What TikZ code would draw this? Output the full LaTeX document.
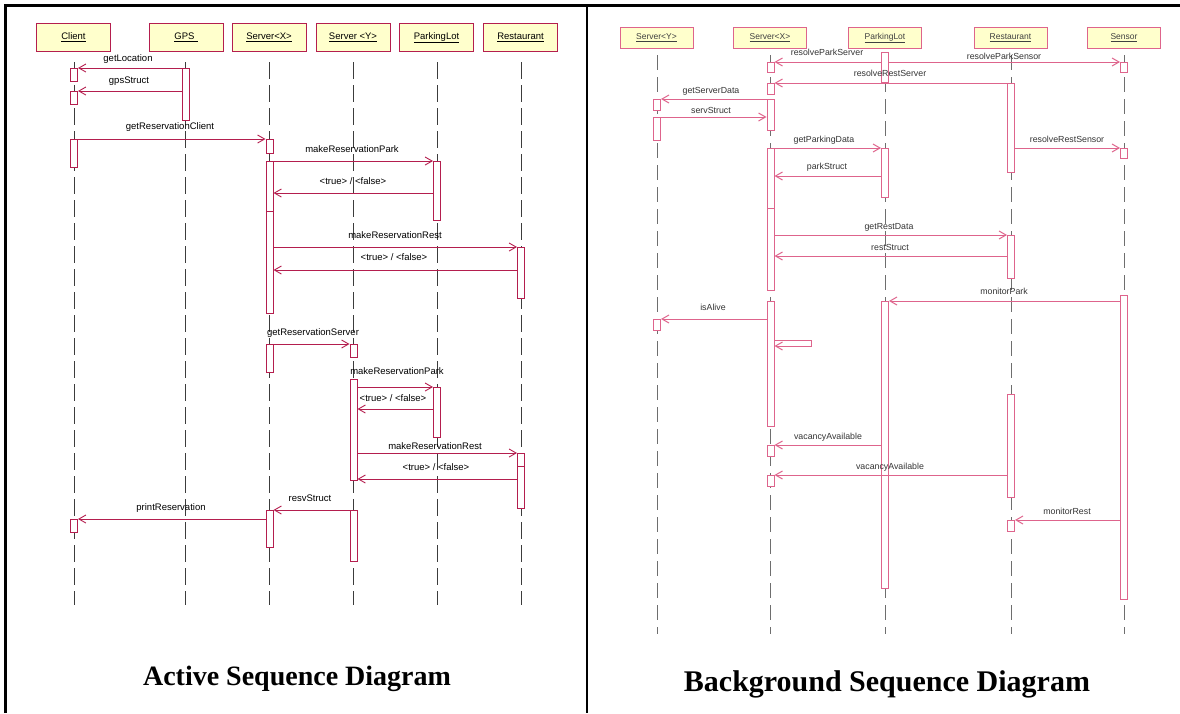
\documentclass[tikz,border=0pt]{standalone}
\usepackage{fontspec}
\setmainfont{Liberation Sans}
\newfontfamily\titlefont{Liberation Serif}
\usetikzlibrary{arrows.meta}
\definecolor{crimL}{RGB}{180,30,78}
\definecolor{crimR}{RGB}{222,100,140}
\definecolor{boxfill}{RGB}{255,255,204}
\definecolor{lifeL}{RGB}{60,60,60}
\definecolor{lifeR}{RGB}{110,110,110}
\tikzset{
  hdrL/.style={draw=crimL, fill=boxfill, line width=1pt, minimum width=74pt, minimum height=28pt, inner sep=0pt, text height=7pt, text depth=2.5pt, font=\fontsize{9.5}{11}\selectfont},
  hdrR/.style={draw=crimR, fill=boxfill, line width=1pt, minimum width=73pt, minimum height=21pt, inner sep=0pt, text height=6.5pt, text depth=2.5pt, font=\fontsize{8.5}{10}\selectfont, text=black!75},
  lifeLine/.style={draw=lifeL, line width=0.8pt, dash pattern=on 17pt off 6pt},
  lifeLineR/.style={draw=lifeR, line width=1pt, dash pattern=on 15pt off 7pt},
  actL/.style={draw=crimL, fill=white, line width=1pt, minimum width=7pt, inner sep=0pt, anchor=north},
  actR/.style={draw=crimR, fill=white, line width=1pt, minimum width=7pt, inner sep=0pt, anchor=north},
  msgL/.style={draw=crimL, line width=0.9pt, -{Straight Barb[length=7pt,width=8pt]}},
  msgR/.style={draw=crimR, line width=1pt, -{Straight Barb[length=7pt,width=8pt]}},
  lblL/.style={font=\fontsize{9.5}{11}\selectfont, inner sep=0pt, text height=7pt, text depth=2pt},
  lblR/.style={font=\fontsize{8.8}{10}\selectfont, inner sep=0pt, text height=6.5pt, text depth=2pt, text=black!80},
  ttl/.style={font=\titlefont\bfseries, inner sep=0pt}
}
\newcommand\actL[4]{\node[actL,minimum height=#4pt] (#1) at (#2,#3) {};}
\newcommand\actR[4]{\node[actR,minimum height=#4pt] (#1) at (#2,#3) {};}
\begin{document}
\begin{tikzpicture}[x=1pt,y=-1pt]
\useasboundingbox (0,0) rectangle (1180,713);
% frame
\draw[line width=2.5pt] (5.5,713) -- (5.5,5.5) -- (1180,5.5);
\draw[line width=2.5pt] (587,5.5) -- (587,713);

% ================= LEFT: Active sequence diagram =================
\node[hdrL] (hC) at (73.5,37) {\underline{Client}};
\node[hdrL] (hG) at (186,37) {\underline{GPS\,\,}};
\node[hdrL] (hX) at (269,37) {\underline{Server<X>}};
\node[hdrL] (hY) at (353,37) {\underline{Server <Y>}};
\node[hdrL] (hP) at (436.5,37) {\underline{ParkingLot}};
\node[hdrL] (hR) at (520.5,37) {\underline{Restaurant}};

\coordinate (lC1) at (74,62);    \coordinate (lC2) at (74,605);
\coordinate (lG1) at (185.5,62); \coordinate (lG2) at (185.5,605);
\coordinate (lX1) at (269.5,62); \coordinate (lX2) at (269.5,605);
\coordinate (lY1) at (353.5,62); \coordinate (lY2) at (353.5,605);
\coordinate (lP1) at (437,62);   \coordinate (lP2) at (437,605);
\coordinate (lR1) at (521,62);   \coordinate (lR2) at (521,605);
\foreach \a in {C,G,X,Y,P,R} {\draw[lifeLine] (l\a1) -- (l\a2);}

\actL{cA1}{74}{68}{13}
\actL{cA2}{74}{91}{13}
\actL{gA}{185.5}{68}{52}
\actL{cA3}{74}{139}{28}
\actL{xA1}{269.5}{139}{14}
\actL{xA2}{269.5}{161}{50}
\actL{xA2b}{269.5}{211}{102}
\actL{pA1}{437}{161}{59}
\actL{rA1}{521}{247}{51}
\actL{xA3}{269.5}{344}{28}
\actL{yA1}{353.5}{344}{13}
\actL{yA2}{353.5}{379}{101}
\actL{pA2}{437}{387}{50}
\actL{rA2}{521}{453}{13}
\actL{rA2b}{521}{466}{42}
\actL{yA3}{353.5}{510}{51}
\actL{xA4}{269.5}{510}{37}
\actL{cA4}{74}{519}{13}

\coordinate (m5) at (0,193);
\coordinate (m7) at (0,270);
\coordinate (m10) at (0,409);
\coordinate (m12) at (0,479);

\draw[msgL] (gA.west |- cA1.north) -- (cA1.north east);
\node[lblL] (l1) at (128,59) {getLocation};
\draw[msgL] (gA.west |- cA2.north) -- (cA2.north east);
\node[lblL] (l2) at (129,81) {gpsStruct};
\draw[msgL] (cA3.north east) -- (xA1.north west);
\node[lblL] (l3) at (170,127) {getReservationClient};
\draw[msgL] (xA2.north east) -- (pA1.north west);
\node[lblL] (l4) at (352,150) {makeReservationPark};
\draw[msgL] (pA1.west |- m5) -- (xA2.east |- m5);
\node[lblL] (l5) at (353,182) {<true> / <false>};
\draw[msgL] (xA2b.east |- rA1.north) -- (rA1.north west);
\node[lblL] (l6) at (395,236) {makeReservationRest};
\draw[msgL] (rA1.west |- m7) -- (xA2b.east |- m7);
\node[lblL] (l7) at (394,258) {<true> / <false>};
\draw[msgL] (xA3.north east) -- (yA1.north west);
\node[lblL] (l8) at (313,333) {getReservationServer};
\draw[msgL] (yA2.east |- pA2.north) -- (pA2.north west);
\node[lblL] (l9) at (397,372) {makeReservationPark};
\draw[msgL] (pA2.west |- m10) -- (yA2.east |- m10);
\node[lblL] (l10) at (393,399) {<true> / <false>};
\draw[msgL] (yA2.east |- rA2.north) -- (rA2.north west);
\node[lblL] (l11) at (435,447) {makeReservationRest};
\draw[msgL] (rA2b.west |- m12) -- (yA2.east |- m12);
\node[lblL] (l12) at (436,468) {<true> / <false>};
\draw[msgL] (yA3.north west) -- (xA4.north east);
\node[lblL] (l13) at (310,499) {resvStruct};
\draw[msgL] (xA4.west |- cA4.north) -- (cA4.north east);
\node[lblL] (l14) at (171,508) {printReservation};

\node[ttl, font=\titlefont\bfseries\fontsize{28}{32}\selectfont] (t1) at (297,679) {Active Sequence Diagram};

% ================= RIGHT: Background sequence diagram =================
\node[hdrR] (gY) at (656.5,37.5) {\underline{Server<Y>}};
\node[hdrR] (gX) at (770,37.5) {\underline{Server<X>}};
\node[hdrR] (gP) at (885,37.5) {\underline{ParkingLot}};
\node[hdrR] (gR) at (1010.5,37.5) {\underline{Restaurant}};
\node[hdrR] (gS) at (1124,37.5) {\underline{Sensor}};

\coordinate (kY1) at (657,55);    \coordinate (kY2) at (657,634);
\coordinate (kX1) at (770.5,55);  \coordinate (kX2) at (770.5,634);
\coordinate (kP1) at (885,55);    \coordinate (kP2) at (885,634);
\coordinate (kR1) at (1011,55);   \coordinate (kR2) at (1011,634);
\coordinate (kS1) at (1124,55);   \coordinate (kS2) at (1124,634);
\foreach \a in {Y,X,P,R,S} {\draw[lifeLineR] (k\a1) -- (k\a2);}

\actR{rxA1}{770.5}{62}{10}
\actR{rpA1}{885}{52}{30}
\actR{rsA1}{1124}{62}{10}
\actR{rxA2}{770.5}{83}{11}
\actR{rrA1}{1011}{83}{89}
\actR{rxA3}{770.5}{99}{31}
\actR{ryA1}{657}{99}{11}
\actR{ryA2}{657}{117}{23}
\actR{rxA4}{770.5}{148}{60}
\actR{rxA4b}{770.5}{208}{82}
\actR{rpA2}{885}{148}{49}
\actR{rsA2}{1124}{148}{10}
\actR{rrA2}{1011}{235}{43}
\actR{rsA3}{1124}{295}{304}
\actR{rpA3}{885}{301}{287}
\actR{rxA5}{770.5}{301}{125}
\actR{ryA3}{657}{319}{11}
\actR{rrA3}{1011}{394}{103}
\actR{rxA6}{770.5}{445}{11}
\actR{rxA7}{770.5}{475}{11}
\actR{rrA4}{1011}{520}{11}

\coordinate (n8) at (0,176);
\coordinate (n10) at (0,256);
\coordinate (s1) at (0,340);
\coordinate (s2) at (0,346);

\draw[msgR] (rpA1.west |- rxA1.north) -- (rxA1.north east);
\node[lblR] (r1) at (827,53) {resolveParkServer};
\draw[msgR] (rpA1.east |- rsA1.north) -- (rsA1.north west);
\node[lblR] (r2) at (1004,57) {resolveParkSensor};
\draw[msgR] (rrA1.north west) -- (rxA2.north east);
\node[lblR] (r3) at (890,74) {resolveRestServer};
\draw[msgR] (rxA3.north west) -- (ryA1.north east);
\node[lblR] (r4) at (711,91) {getServerData};
\draw[msgR] (ryA2.north east) -- (rxA3.west |- ryA2.north);
\node[lblR] (r5) at (711,111) {servStruct};
\draw[msgR] (rxA4.north east) -- (rpA2.north west);
\node[lblR] (r6) at (824,140) {getParkingData};
\draw[msgR] (rrA1.east |- rsA2.north) -- (rsA2.north west);
\node[lblR] (r7) at (1067,140) {resolveRestSensor};
\draw[msgR] (rpA2.west |- n8) -- (rxA4.east |- n8);
\node[lblR] (r8) at (827,167) {parkStruct};
\draw[msgR] (rxA4b.east |- rrA2.north) -- (rrA2.north west);
\node[lblR] (r9) at (889,227) {getRestData};
\draw[msgR] (rrA2.west |- n10) -- (rxA4b.east |- n10);
\node[lblR] (r10) at (890,248) {restStruct};
\draw[msgR] (rsA3.west |- rpA3.north) -- (rpA3.north east);
\node[lblR] (r11) at (1004,292) {monitorPark};
\draw[msgR] (rxA5.west |- ryA3.north) -- (ryA3.north east);
\node[lblR] (r12) at (713,308) {isAlive};
\draw[msgR] (rxA5.east |- s1) -- ++(37,0) -- ++(0,6) -- (rxA5.east |- s2);
\draw[msgR] (rpA3.west |- rxA6.north) -- (rxA6.north east);
\node[lblR] (r14) at (828,437) {vacancyAvailable};
\draw[msgR] (rrA3.west |- rxA7.north) -- (rxA7.north east);
\node[lblR] (r15) at (890,467) {vacancyAvailable};
\draw[msgR] (rsA3.west |- rrA4.north) -- (rrA4.north east);
\node[lblR] (r16) at (1067,512) {monitorRest};

\node[ttl, font=\titlefont\bfseries\fontsize{30}{34}\selectfont] (t2) at (887,684) {Background Sequence Diagram};
\end{tikzpicture}
\end{document}
